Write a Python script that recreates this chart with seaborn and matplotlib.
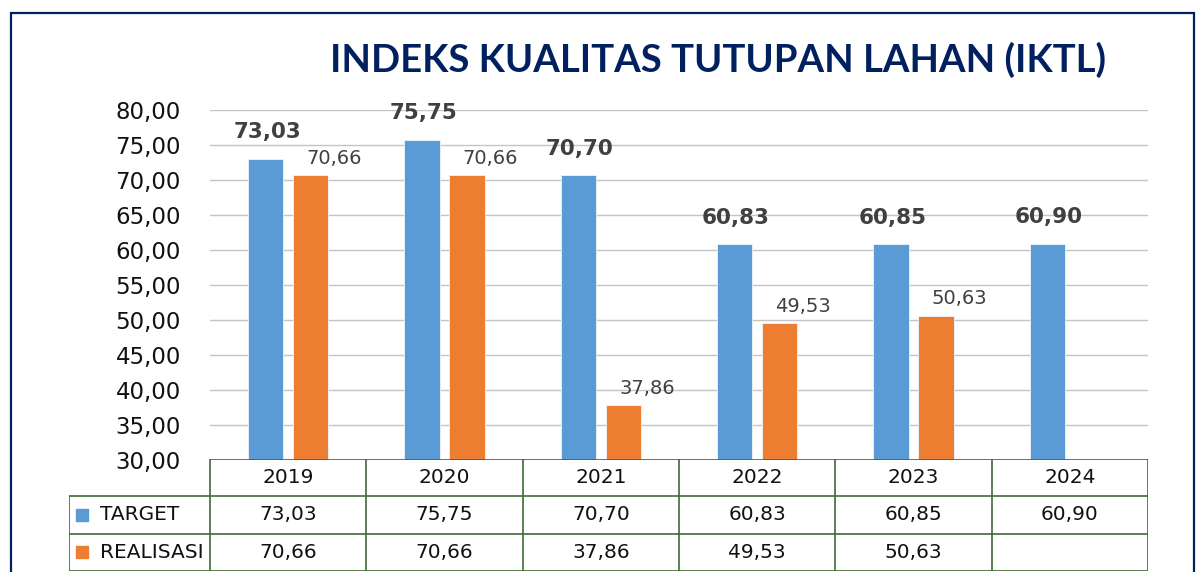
import numpy as np
import pandas as pd
import matplotlib
matplotlib.use("Agg")
import matplotlib.pyplot as plt
import seaborn as sns

years = ["2019", "2020", "2021", "2022", "2023", "2024"]
target = [73.03, 75.75, 70.70, 60.83, 60.85, 60.90]
realisasi = [70.66, 70.66, 37.86, 49.53, 50.63, np.nan]
series_names = ["TARGET", "REALISASI"]
colors = ["#5B9BD5", "#ED7D31"]
yticks = [30, 35, 40, 45, 50, 55, 60, 65, 70, 75, 80]


def fmt(v):
    return "" if np.isnan(v) else f"{v:.2f}".replace(".", ",")


df = pd.DataFrame({
    "Tahun": years * 2,
    "Nilai": target + realisasi,
    "Seri": [series_names[0]] * len(years) + [series_names[1]] * len(years),
})

sns.set_style("white")
plt.rcParams["font.family"] = ["DejaVu Sans"]

W, H = 1196, 572
fig = plt.figure(figsize=(W / 100, H / 100), dpi=100)

# outer frame
fig.add_artist(plt.Rectangle((11 / W, -0.05), (1194 - 11) / W, 1.05 - 13 / H,
                             transform=fig.transFigure, fill=False,
                             edgecolor="#002060", linewidth=1.6))

fig.text(718 / W, 1 - 60 / H, "INDEKS KUALITAS TUTUPAN LAHAN (IKTL)",
         fontsize=27.5, fontweight="bold", color="#002060", family="Lato",
         ha="center", va="center")

ax = fig.add_axes([210 / W, 1 - 460 / H, (1148 - 210) / W, 350 / H])
sns.barplot(data=df, x="Tahun", y="Nilai", hue="Seri", palette=colors,
            saturation=1, width=0.576, gap=0.22, ax=ax, legend=False,
            edgecolor="#eef4fb", linewidth=0.6)
ax.set_ylim(30, 80)
ax.set_xlim(-0.5, 5.5)
ax.set_yticks(yticks)
ax.set_yticklabels([f"{t:.2f}".replace(".", ",") for t in yticks], fontsize=16.5,
                   color="#111111")
ax.tick_params(axis="y", length=0, pad=21)
ax.set_xticks([])
ax.set_xlabel("")
ax.set_ylabel("")
ax.grid(axis="y", color="#c4c4c4", linewidth=1.0)
ax.set_axisbelow(True)
for s in ax.spines.values():
    s.set_visible(False)

off = 0.144
for i, (t, r) in enumerate(zip(target, realisasi)):
    ax.annotate(fmt(t), (i - off, t), xytext=(1, 19), textcoords="offset points",
                ha="center", va="center", fontsize=15.5, fontweight="bold",
                color="#404040")
    if not np.isnan(r):
        ax.annotate(fmt(r), (i + off, r), xytext=(17, 12), textcoords="offset points",
                    ha="center", va="center", fontsize=14, color="#404040")

# data table below the chart
lab_w = 141 / ((1148 - 210) / 6)
tx = fig.add_axes([69 / W, 1 - 571 / H, (1148 - 69) / W, 112 / H])
tx.set_xlim(-0.5 - lab_w, 5.5)
tx.set_ylim(3, 0)
tx.axis("off")
lc = "#3f6a35"
lw = 1.2
tx.hlines(0, -0.5, 5.5, color=lc, linewidth=lw)
tx.hlines([1, 2, 3], -0.5 - lab_w, 5.5, color=lc, linewidth=lw)
tx.vlines(-0.5 - lab_w, 1, 3, color=lc, linewidth=lw)
tx.vlines(np.arange(-0.5, 6.0, 1.0), 0, 3, color=lc, linewidth=lw)

fs = 14.5
for i, y in enumerate(years):
    tx.text(i, 0.5, y, ha="center", va="center", fontsize=fs, color="#111111")
    tx.text(i, 1.5, fmt(target[i]), ha="center", va="center", fontsize=fs, color="#111111")
    tx.text(i, 2.5, fmt(realisasi[i]), ha="center", va="center", fontsize=fs, color="#111111")

for k, (name, c) in enumerate(zip(series_names, colors)):
    tx.plot(-0.5 - lab_w + 0.085, 1.5 + k, marker="s", markersize=9, color=c,
            linestyle="none")
    tx.text(-0.5 - lab_w + 0.2, 1.5 + k, name, ha="left", va="center",
            fontsize=fs, color="#111111")

fig.savefig("out.png", dpi=100)
